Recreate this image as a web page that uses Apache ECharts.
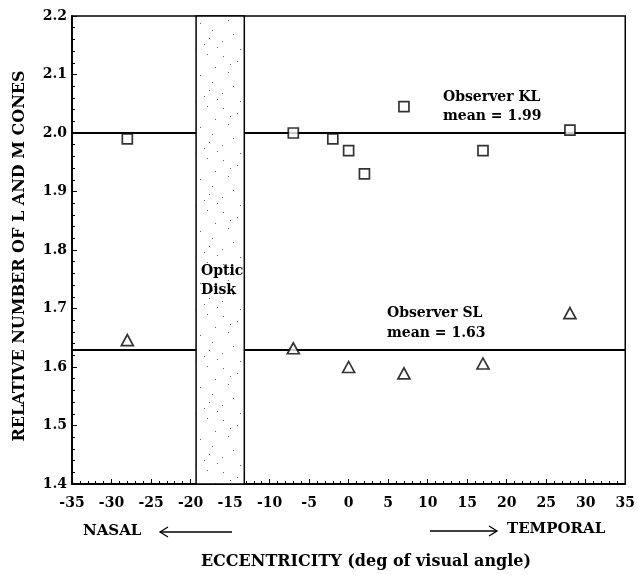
<!DOCTYPE html>
<html>
<head>
<meta charset="utf-8">
<script src="https://cdn.jsdelivr.net/npm/echarts@6/dist/echarts.min.js"></script>
<style>
html,body{margin:0;padding:0;background:#fff;}
#chart{width:638px;height:575px;}
</style>
</head>
<body>
<div id="chart"></div>
<script>
// ---- data ----
const klEcc = [-28, -7, -2, 0, 2, 7, 17, 28];
const klValues = [1.99, 2.00, 1.99, 1.97, 1.93, 2.045, 1.97, 2.005];
const slEcc = [-28, -7, 0, 7, 17, 28];
const slValues = [1.646, 1.632, 1.60, 1.589, 1.606, 1.692];
const klMeanLine = 2.0;
const klMeanText = '1.99';
const slMeanLine = 1.63;
const slMeanText = '1.63';
const opticDisk = [-19.3, -13.2];
const xRange = [-35, 35];
const yRange = [1.4, 2.2];
const xTitle = 'ECCENTRICITY (deg of visual angle)';
const yTitle = 'RELATIVE NUMBER OF L AND M CONES';

// ---- stipple pattern for optic disk ----
const tile = document.createElement('canvas');
tile.width = 44; tile.height = 52;
const tc = tile.getContext('2d');
tc.fillStyle = '#fff'; tc.fillRect(0,0,44,52);
const dots = [[3,4],[17,9],[31,2],[39,15],[8,20],[24,23],[36,30],[13,34],[2,41],[28,44],[20,49],[41,47],[10,12],[33,38]];
tc.fillStyle = '#666';
dots.forEach(d => tc.fillRect(d[0], d[1], 1, 1));

const font = 'DejaVu Serif';
const chart = echarts.init(document.getElementById('chart'));

function seg(x0, x1, y) {
  return [{coord:[x0, y]}, {coord:[x1, y]}];
}

chart.setOption({
  animation: false,
  backgroundColor: '#fff',
  grid: {left: 72, right: 10, top: 16, bottom: 91, show: true, borderColor: '#000', borderWidth: 1.5, backgroundColor: 'transparent'},
  xAxis: {
    type: 'value', min: xRange[0], max: xRange[1], interval: 5,
    axisLine: {onZero: false, lineStyle: {color: '#000', width: 1.8}},
    axisTick: {inside: true, length: 5, lineStyle: {color: '#000'}},
    minorTick: {show: true, splitNumber: 5, length: 3, lineStyle: {color: '#000'}},
    splitLine: {show: false},
    axisLabel: {color: '#000', fontFamily: font, fontWeight: 'bold', fontSize: 14, margin: 12}
  },
  yAxis: {
    type: 'value', min: yRange[0], max: yRange[1], interval: 0.1,
    axisLine: {onZero: false, lineStyle: {color: '#000', width: 1.8}},
    axisTick: {inside: true, length: 5, lineStyle: {color: '#000'}},
    minorTick: {show: true, splitNumber: 5, length: 3, lineStyle: {color: '#000'}},
    splitLine: {show: false},
    axisLabel: {color: '#000', fontFamily: font, fontWeight: 'bold', fontSize: 14, margin: 5,
      formatter: v => v.toFixed(1)}
  },
  series: [
    {
      type: 'scatter', name: 'KL', symbol: 'rect', symbolSize: 10, z: 5,
      itemStyle: {color: '#fff', borderColor: '#000', borderWidth: 1.7},
      data: klEcc.map((x, i) => [x, klValues[i]]),
      markArea: {
        silent: true,
        itemStyle: {color: {image: tile, repeat: 'repeat'}, borderColor: '#000', borderWidth: 1.5},
        data: [[{coord: [opticDisk[0], yRange[0]]}, {coord: [opticDisk[1], yRange[1]]}]]
      },
      markLine: {
        silent: true, symbol: 'none', label: {show: false},
        lineStyle: {color: '#000', width: 1.8, type: 'solid'},
        data: [seg(xRange[0], opticDisk[0], klMeanLine), seg(opticDisk[1], xRange[1], klMeanLine),
               seg(xRange[0], opticDisk[0], slMeanLine), seg(opticDisk[1], xRange[1], slMeanLine)]
      }
    },
    {
      type: 'scatter', name: 'SL', symbol: 'triangle', symbolSize: [12, 11], z: 5,
      itemStyle: {color: '#fff', borderColor: '#000', borderWidth: 1.7},
      data: slEcc.map((x, i) => [x, slValues[i]])
    }
  ],
  graphic: [
    {type: 'text', left: 443, top: 88, style: {text: 'Observer KL\nmean = ' + klMeanText, fill: '#000', font: 'bold 14px "DejaVu Serif"', lineHeight: 19}},
    {type: 'text', left: 387, top: 303, style: {text: 'Observer SL\nmean = ' + slMeanText, fill: '#000', font: 'bold 14px "DejaVu Serif"', lineHeight: 20}},
    {type: 'text', left: 201, top: 262, style: {text: 'Optic\nDisk', fill: '#000', font: 'bold 14px "DejaVu Serif"', lineHeight: 19}, z: 10},
    {type: 'text', left: 83, top: 524, style: {text: 'NASAL', fill: '#000', font: 'bold 15px "DejaVu Serif"'}},
    {type: 'text', left: 507, top: 522, style: {text: 'TEMPORAL', fill: '#000', font: 'bold 15px "DejaVu Serif"'}},
    {type: 'text', x: 366, y: 562, style: {text: xTitle, fill: '#000', font: 'bold 16px "DejaVu Serif"', align: 'center', verticalAlign: 'middle'}},
    {type: 'text', x: 20, y: 256, rotation: Math.PI / 2, style: {text: yTitle, fill: '#000', font: 'bold 16px "DejaVu Serif"', align: 'center', verticalAlign: 'middle'}},
    {type: 'line', shape: {x1: 160, y1: 532, x2: 232, y2: 532}, style: {stroke: '#000', lineWidth: 1.3}},
    {type: 'polyline', shape: {points: [[168, 527], [160, 532], [168, 537]]}, style: {stroke: '#000', lineWidth: 1.3, fill: null}},
    {type: 'line', shape: {x1: 430, y1: 531, x2: 497, y2: 531}, style: {stroke: '#000', lineWidth: 1.3}},
    {type: 'polyline', shape: {points: [[489, 526], [497, 531], [489, 536]]}, style: {stroke: '#000', lineWidth: 1.3, fill: null}}
  ]
});
</script>
</body>
</html>
